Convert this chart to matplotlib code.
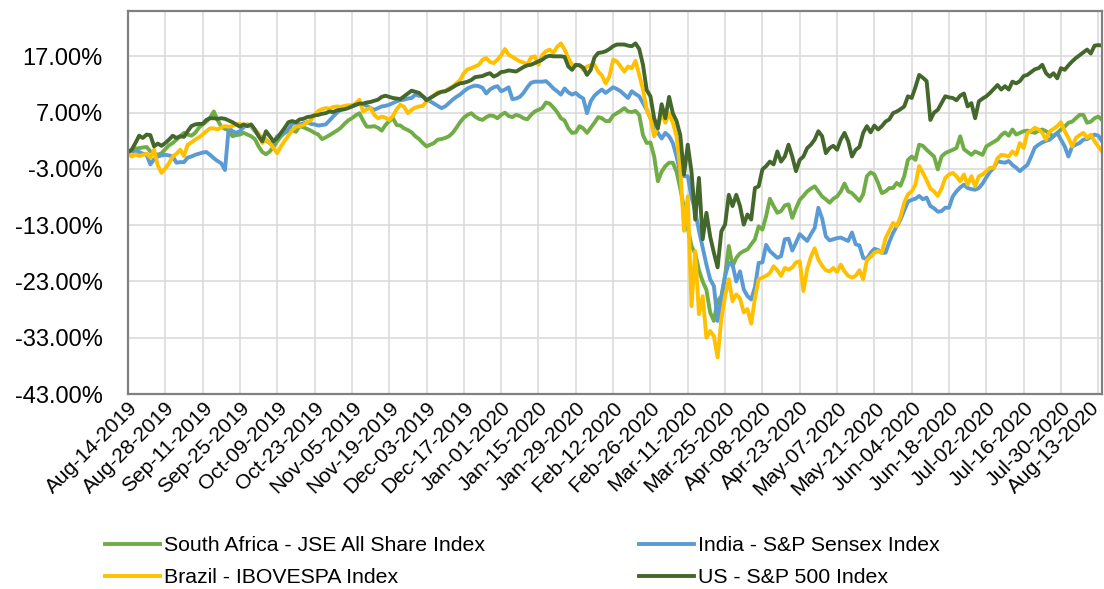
import matplotlib
matplotlib.use("Agg")
from matplotlib import pyplot as plt
from matplotlib.ticker import FixedLocator, FuncFormatter
from matplotlib.transforms import ScaledTranslation

# Cumulative return since Aug-14-2019, in percent, one value per trading day
tick_labels = [
    "Aug-14-2019", "Aug-28-2019", "Sep-11-2019", "Sep-25-2019", "Oct-09-2019",
    "Oct-23-2019", "Nov-05-2019", "Nov-19-2019", "Dec-03-2019", "Dec-17-2019",
    "Jan-01-2020", "Jan-15-2020", "Jan-29-2020", "Feb-12-2020", "Feb-26-2020",
    "Mar-11-2020", "Mar-25-2020", "Apr-08-2020", "Apr-23-2020", "May-07-2020",
    "May-21-2020", "Jun-04-2020", "Jun-18-2020", "Jul-02-2020", "Jul-16-2020",
    "Jul-30-2020", "Aug-13-2020",
]

south_africa = [
    0.0, 0.4, 0.6, 0.7, 0.8, 0.9, 0.1, -0.2, -0.5, -0.2,
    0.5, 1.2, 1.6, 2.2, 2.8, 3.4, 3.1, 2.9, 3.4, 4.3,
    4.9, 5.4, 6.1, 7.2, 5.7, 4.5, 4.1, 3.9, 2.8, 3.0,
    3.1, 3.4, 3.1, 2.8, 2.3, 1.0, 0.0, -0.4, 0.1, 0.9,
    1.9, 2.8, 3.4, 3.7, 3.9, 3.6, 4.6, 4.4, 4.1, 3.8,
    3.4, 3.1, 2.3, 2.6, 3.0, 3.4, 3.8, 4.3, 5.0, 5.6,
    6.0, 6.5, 6.9, 5.6, 4.5, 4.5, 4.6, 4.3, 3.8, 4.8,
    5.5, 6.0, 4.8, 4.7, 4.2, 3.9, 3.5, 2.8, 2.3, 1.6,
    1.0, 1.3, 1.6, 2.2, 2.3, 2.5, 2.8, 3.4, 4.3, 5.3,
    6.1, 6.6, 6.9, 6.3, 5.9, 5.7, 6.2, 6.5, 6.4, 6.0,
    6.6, 7.0, 6.4, 6.2, 6.6, 6.4, 6.0, 5.8, 6.6, 7.2,
    7.5, 7.8, 8.8, 8.6, 7.9, 7.1, 6.0, 5.6, 4.2, 3.4,
    3.5, 4.6, 4.2, 3.4, 4.3, 5.2, 6.2, 6.0, 5.5, 5.5,
    6.5, 6.9, 7.3, 7.8, 7.2, 7.1, 7.3, 6.6, 3.0, 1.6,
    1.7, -0.8, -5.2, -3.5, -2.5, -1.9, -1.9, -3.5, -6.5, -10.0,
    -13.5, -16.7, -18.0, -21.0, -23.0, -24.5, -28.5, -30.0, -26.5, -25.6,
    -22.0, -16.7, -20.3, -18.8, -18.0, -17.6, -17.3, -16.4, -15.5, -13.2,
    -13.8, -11.4, -8.3, -9.6, -10.8, -10.5, -9.5, -9.3, -11.7, -10.0,
    -8.5, -7.8, -7.0, -6.5, -6.1, -7.0, -7.9, -8.4, -9.0, -8.3,
    -7.9, -7.0, -5.6, -7.0, -7.3, -8.0, -8.7, -7.5, -4.3, -3.6,
    -4.0, -5.5, -7.3, -7.0, -6.4, -6.4, -5.5, -6.0, -4.3, -1.4,
    -0.8, -1.4, 1.3, 1.1, 0.4, -0.2, -0.8, -3.1, -0.8, -0.2,
    0.1, 0.4, 0.7, 2.8, 0.5, 0.0, -0.5, 0.1, -0.2, -0.5,
    1.0, 1.4, 1.8, 2.2, 3.0, 3.5, 2.9, 4.0, 3.1, 3.4,
    3.7, 3.8, 3.6, 3.4, 3.8, 4.0, 3.7, 3.2, 2.8, 3.4,
    4.0, 4.5, 5.2, 5.4, 6.0, 6.6, 6.6, 5.2, 5.4, 6.0,
    6.3, 5.7,
]

india = [
    0.0, 0.1, 0.1, 0.0, -0.3, -0.5, -2.2, -1.3, -0.8, -0.6,
    -0.5, -0.6, -0.8, -1.9, -1.8, -1.8, -1.0, -0.8, -0.5, -0.3,
    -0.1, 0.0, -0.5, -1.1, -1.6, -2.0, -3.2, 4.3, 3.7, 3.4,
    3.7, 4.4, 4.9, 4.6, 3.7, 3.1, 2.5, 2.0, 1.6, 1.6,
    2.8, 3.1, 3.6, 4.0, 5.0, 5.2, 4.9, 5.1, 5.3, 5.0,
    4.9, 4.7, 4.8, 4.9, 5.6, 6.3, 7.0, 7.5, 7.7, 7.9,
    8.1, 8.3, 8.7, 8.5, 8.2, 7.8, 7.5, 7.8, 8.1, 8.2,
    8.4, 8.7, 9.0, 9.2, 9.3, 9.5, 9.6, 10.2, 10.0, 9.9,
    9.4, 9.0, 8.6, 8.2, 7.8, 8.1, 8.7, 9.3, 9.8, 10.2,
    10.8, 11.3, 11.6, 11.8, 11.7, 11.4, 10.4, 11.1, 11.5, 11.7,
    10.8, 11.1, 11.5, 9.4, 9.5, 9.8, 10.5, 11.5, 12.3, 12.5,
    12.5, 12.5, 12.6, 12.0, 11.3, 10.8, 10.2, 11.3, 10.6, 10.2,
    10.5, 9.9, 9.5, 6.9, 9.0, 10.0, 10.6, 11.1, 10.5, 11.0,
    11.5, 11.2, 10.8, 10.2, 9.6, 10.8, 10.3, 9.9, 8.7, 7.5,
    6.0, 4.8, 3.4, 2.4, 3.4, 2.8, 1.6, -0.8, -3.7, -4.3,
    -4.3, -8.0, -10.5, -14.0, -17.0, -20.0, -22.6, -23.8, -30.0, -26.2,
    -22.0, -19.7, -20.0, -23.0, -21.2, -24.4, -25.6, -26.2, -24.0, -19.7,
    -19.6, -16.5, -17.6, -18.2, -18.8, -18.5, -15.5, -15.4, -17.5, -16.1,
    -14.6, -15.2, -15.8, -14.6, -13.5, -9.9, -11.8, -15.0, -15.7, -15.5,
    -15.3, -15.2, -15.5, -15.8, -14.3, -16.4, -16.6, -18.8, -19.0, -17.9,
    -17.2, -17.4, -17.9, -17.9, -16.0, -14.4, -13.2, -12.0, -10.4, -8.8,
    -8.5, -8.3, -7.8, -8.4, -8.1, -9.6, -10.0, -10.6, -10.5, -9.9,
    -9.9, -7.9, -7.0, -6.3, -5.8, -6.4, -6.6, -6.7, -6.4, -5.6,
    -4.5, -3.5, -2.8, -1.6, -1.8, -1.9, -1.6, -2.3, -2.8, -3.4,
    -2.8, -2.3, -0.8, 0.8, 1.3, 1.7, 2.0, 2.2, 2.8, 3.4,
    2.2, 1.0, -0.8, 1.0, 1.3, 1.6, 2.2, 2.3, 2.7, 3.1,
    2.9, 1.9,
]

brazil = [
    0.0, -0.8, -0.4, -0.7, -0.5, -0.3, -1.0, 0.4, -2.4, -3.7,
    -2.9, -2.0, -0.8, -0.3, 0.4, -0.7, 1.3, 1.7, 2.2, 2.6,
    3.1, 3.7, 4.2, 4.2, 4.0, 4.4, 4.6, 4.5, 4.6, 4.9,
    5.0, 4.8, 4.9, 4.7, 3.9, 3.3, 1.6, 2.3, 1.6, 0.7,
    -0.2, 1.0, 2.0, 2.9, 3.9, 4.5, 4.6, 4.8, 5.3, 5.6,
    6.6, 7.3, 7.6, 7.8, 7.7, 8.0, 8.1, 8.0, 8.2, 8.3,
    8.3, 8.6, 9.3, 7.2, 7.6, 7.8, 6.6, 6.0, 6.3, 6.1,
    5.7, 6.4, 7.6, 8.4, 8.0, 6.9, 7.5, 7.9, 8.1, 8.2,
    9.0, 9.6, 10.1, 10.6, 10.7, 10.8, 11.3, 11.6, 12.2, 12.8,
    14.0, 14.7, 14.9, 15.2, 15.5, 16.4, 16.7, 16.0, 15.8, 16.4,
    17.2, 18.3, 17.3, 16.9, 16.5, 16.1, 15.9, 15.5, 16.8, 17.0,
    15.5, 17.2, 17.9, 18.2, 17.6, 18.7, 19.3, 18.2, 16.7, 15.5,
    15.3, 15.5, 14.6, 15.2, 15.4, 15.5, 14.3, 13.6, 12.2, 13.4,
    16.4, 16.1, 15.2, 14.3, 15.2, 14.9, 16.2, 13.7, 11.1, 7.5,
    6.0, 2.8, 4.5, 6.9, 5.2, 6.9, 5.2, 2.8, -3.1, -14.0,
    -7.9, -27.4, -17.6, -28.8, -25.6, -33.0, -31.8, -32.7, -36.5, -29.7,
    -25.6, -22.6, -26.5, -25.3, -26.0, -28.5, -27.9, -30.5, -26.0, -22.6,
    -22.3, -22.0, -21.5, -20.3, -21.0, -22.0, -20.6, -20.9, -20.5, -19.6,
    -19.4, -24.7, -20.8, -18.6, -17.1, -19.1, -20.2, -21.0, -21.2, -20.6,
    -21.3, -20.0, -21.2, -22.0, -22.3, -22.0, -21.0, -22.6, -19.2, -18.6,
    -17.9, -17.6, -17.9, -15.3, -14.0, -12.6, -13.2, -11.5, -9.0, -7.5,
    -7.0, -5.8, -2.5, -3.7, -5.0, -6.5, -7.0, -7.8, -6.5, -4.6,
    -4.0, -3.7, -4.3, -5.2, -4.0, -5.8, -4.3, -6.1, -4.3, -4.0,
    -3.4, -2.8, -2.8, -1.1, -0.5, -0.6, -0.8, 0.1, -0.5, 1.6,
    0.7, 3.4, 3.8, 4.3, 4.0, 3.4, 2.2, 3.7, 4.1, 4.6,
    5.3, 3.7, 2.5, 1.0, 2.5, 3.0, 3.4, 2.5, 3.1, 1.9,
    1.0, 0.1,
]

us = [
    0.0, 0.4, 1.6, 2.9, 2.5, 3.1, 3.0, 1.0, 1.5, 1.1,
    1.6, 2.2, 2.9, 2.5, 2.8, 2.7, 3.7, 4.6, 4.9, 5.0,
    5.0, 5.7, 6.0, 6.0, 5.9, 6.0, 5.9, 5.6, 5.3, 4.9,
    4.5, 4.9, 4.6, 4.9, 4.0, 2.8, 1.9, 3.7, 2.8, 1.9,
    2.5, 3.4, 4.3, 5.3, 5.5, 5.3, 5.8, 5.9, 6.2, 6.3,
    6.5, 6.6, 6.8, 6.9, 7.2, 7.1, 7.4, 7.5, 7.6, 7.8,
    8.1, 8.4, 8.6, 8.6, 8.8, 8.9, 9.1, 9.3, 9.8, 10.0,
    9.8, 9.6, 9.5, 9.4, 9.9, 10.4, 10.9, 10.7, 10.5, 9.9,
    9.2, 9.6, 10.0, 10.4, 10.7, 10.8, 11.1, 11.5, 11.9, 12.2,
    12.3, 12.5, 12.8, 13.3, 13.4, 13.5, 13.8, 14.0, 13.4, 13.7,
    14.2, 14.3, 14.5, 14.4, 14.3, 14.7, 15.1, 15.4, 15.5, 15.8,
    16.1, 16.4, 16.9, 17.1, 17.0, 17.0, 17.0, 16.9, 15.2, 14.6,
    15.5, 15.4, 15.0, 13.7, 14.6, 16.8, 17.6, 17.7, 17.9, 18.3,
    18.8, 19.1, 19.1, 19.1, 18.9, 18.8, 19.3, 18.3, 15.5, 11.0,
    9.9, 6.0, 4.2, 8.5, 6.0, 9.8, 6.9, 5.5, 3.0, -4.0,
    1.3, -3.5, -12.0, -4.6, -15.5, -10.8, -15.0, -17.9, -20.5, -14.1,
    -12.9, -7.6, -9.6, -7.6, -9.6, -12.9, -11.1, -12.0, -6.4, -6.1,
    -3.1, -2.5, -1.7, -2.2, 0.1, -1.7, -0.8, 1.3, -0.8, -3.4,
    -1.4, -0.8, 0.7, 1.3, 2.2, 3.7, 2.8, -0.2, 0.7, 1.1,
    0.4, 2.2, 3.4, 1.9, -0.8, 0.4, 0.9, 3.4, 4.6, 3.5,
    4.7, 4.0, 4.6, 5.4, 5.8, 6.9, 7.2, 7.6, 8.1, 9.9,
    9.6, 11.5, 13.7, 13.2, 12.6, 5.7, 7.0, 7.5, 8.7, 9.9,
    9.7, 9.6, 9.2, 10.0, 10.4, 8.1, 8.7, 6.0, 9.0, 9.5,
    9.9, 10.5, 11.2, 11.9, 11.1, 11.7, 11.1, 12.5, 12.2, 12.6,
    13.5, 13.7, 14.2, 14.7, 14.9, 15.5, 14.0, 13.4, 14.0, 13.1,
    14.9, 14.6, 15.4, 16.1, 16.7, 17.2, 17.7, 18.2, 17.5, 18.9,
    19.0, 18.9,
]

y_ticks = [-43, -33, -23, -13, -3, 7, 17]

plt.rcParams['font.family'] = ['Liberation Sans', 'DejaVu Sans']

fig = plt.figure(figsize=(11.04, 5.89), dpi=100)
ax = fig.add_axes([0.1159, 0.331, 0.8823, 0.6498])

days = range(len(us))
l_sa, = ax.plot(days, south_africa, color='#70AD47', lw=2.8,
                label='South Africa - JSE All Share Index')
l_in, = ax.plot(days, india, color='#5B9BD5', lw=2.8,
                label='India - S&P Sensex Index')
l_br, = ax.plot(days, brazil, color='#FFC000', lw=2.8,
                label='Brazil - IBOVESPA Index')
l_us, = ax.plot(days, us, color='#44682C', lw=2.8,
                label='US - S&P 500 Index')

ax.set_xlim(0, len(us) - 1)
ax.set_ylim(-43, 25)

ax.xaxis.set_major_locator(FixedLocator(range(0, len(us), 10)))
ax.set_xticklabels(tick_labels, rotation=45, ha='right', va='top',
                   rotation_mode='anchor', fontsize=15)
ax.yaxis.set_major_locator(FixedLocator(y_ticks))
ax.yaxis.set_major_formatter(FuncFormatter(lambda v, _: f"{v:.2f}%"))
ax.tick_params(axis='y', length=0, pad=18, labelsize=17)
ax.tick_params(axis='x', length=0, pad=3)

# pull the last label in a little so it stays inside the figure
# (after tick_params, which resets the label transforms)
last = ax.xaxis.get_major_ticks()[-1].label1
last.set_transform(last.get_transform()
                   + ScaledTranslation(-8 / 100, 0, fig.dpi_scale_trans))

ax.grid(True, color='#D9D9D9', lw=1.1)
ax.set_axisbelow(True)
for s in ax.spines.values():
    s.set_color('#808080')
    s.set_linewidth(1.6)

# Excel fills legend rows first, matplotlib fills columns first
fig.legend(handles=[l_sa, l_br, l_in, l_us], ncol=2, loc='upper left',
           bbox_to_anchor=(105 / 1104, 1 - 536 / 589), frameon=False,
           fontsize=15.3, handlelength=2.6, handletextpad=0.2,
           columnspacing=7.2, labelspacing=0.62, borderpad=0,
           borderaxespad=0)

fig.savefig('out.png', dpi=100)
